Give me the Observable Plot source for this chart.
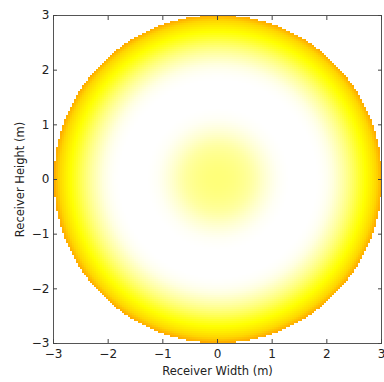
<!DOCTYPE html>
<html><head><meta charset="utf-8">
<script src="https://cdn.jsdelivr.net/npm/d3@7"></script>
<script src="https://cdn.jsdelivr.net/npm/@observablehq/plot@0.6"></script>
<style>html,body{margin:0;padding:0;background:#fff} svg{display:block}</style>
</head><body><div id="chart"></div>
<script>
// Radial profile of the receiver intensity (0 = white, 0.5 = yellow, 1 = orange)
const radii  = [0, 0.1, 0.2, 0.3, 0.4, 0.5, 0.6, 0.7, 0.8, 0.9, 1.0, 1.1, 1.2, 1.3, 1.4, 1.5,
                1.6, 1.7, 1.8, 1.9, 2.0, 2.1, 2.2, 2.3, 2.4, 2.5, 2.6, 2.7, 2.8, 2.9, 3.0];
const levels = [0.26, 0.26, 0.255, 0.245, 0.23, 0.21, 0.185, 0.15, 0.11, 0.075, 0.045, 0.02, 0.008, 0, 0, 0,
                0, 0, 0, 0.01, 0.03, 0.065, 0.12, 0.18, 0.25, 0.33, 0.42, 0.50, 0.60, 0.72, 0.95];
const receiverRadius = 3;
const xTicks = [-3, -2, -1, 0, 1, 2, 3];
const yTicks = [-3, -2, -1, 0, 1, 2, 3];
const xLabel = "Receiver Width (m)";
const yLabel = "Receiver Height (m)";
const colorDomain = [0, 0.5, 1];
const colorRange = ["#ffffff", "#ffff00", "#ffa000"];

function levelAt(x, y) {
  const r = Math.hypot(x, y);
  if (r > receiverRadius) return null;
  const i = Math.min(d3.bisectRight(radii, r), radii.length - 1);
  const i0 = Math.max(i - 1, 0);
  if (i0 === i) return levels[i];
  const t = (r - radii[i0]) / (radii[i] - radii[i0]);
  return levels[i0] + Math.max(0, Math.min(1, t)) * (levels[i] - levels[i0]);
}

const chart = Plot.plot({
  width: 384,
  height: 382,
  marginLeft: 53,
  marginRight: 3,
  marginTop: 15,
  marginBottom: 39,
  style: {fontFamily: "DejaVu Sans", fontSize: "12px", color: "#222", background: "#fff"},
  x: {domain: [-3, 3]},
  y: {domain: [-3, 3]},
  color: {type: "linear", domain: colorDomain, range: colorRange, interpolate: "rgb"},
  marks: [
    Plot.raster({x1: -3, x2: 3, y1: -3, y2: 3, width: 164, height: 164, fill: levelAt, imageRendering: "pixelated"}),
    Plot.frame({stroke: "#555", strokeWidth: 1}),
    Plot.axisX({ticks: xTicks, tickFormat: "d", anchor: "bottom", tickSize: -4, tickPadding: 10, stroke: "#444",
                fontSize: 12, label: null}),
    Plot.axisX({ticks: [], anchor: "bottom", tickSize: 0, fontSize: 11.5,
                label: xLabel, labelAnchor: "center", labelArrow: "none", labelOffset: 31}),
    Plot.axisX({ticks: xTicks, anchor: "top", tickSize: -4, stroke: "#444", tickFormat: () => "", label: null}),
    Plot.axisY({ticks: yTicks, tickFormat: "d", anchor: "left", tickSize: -4, tickPadding: 8, stroke: "#444",
                fontSize: 12, label: null}),
    Plot.axisY({ticks: [], anchor: "left", tickSize: 0, fontSize: 11.5,
                label: yLabel, labelAnchor: "center", labelArrow: "none", labelOffset: 38}),
    Plot.axisY({ticks: yTicks, anchor: "right", tickSize: -4, stroke: "#444", tickFormat: () => "", label: null})
  ]
});
document.getElementById("chart").appendChild(chart);
</script>
</body></html>
